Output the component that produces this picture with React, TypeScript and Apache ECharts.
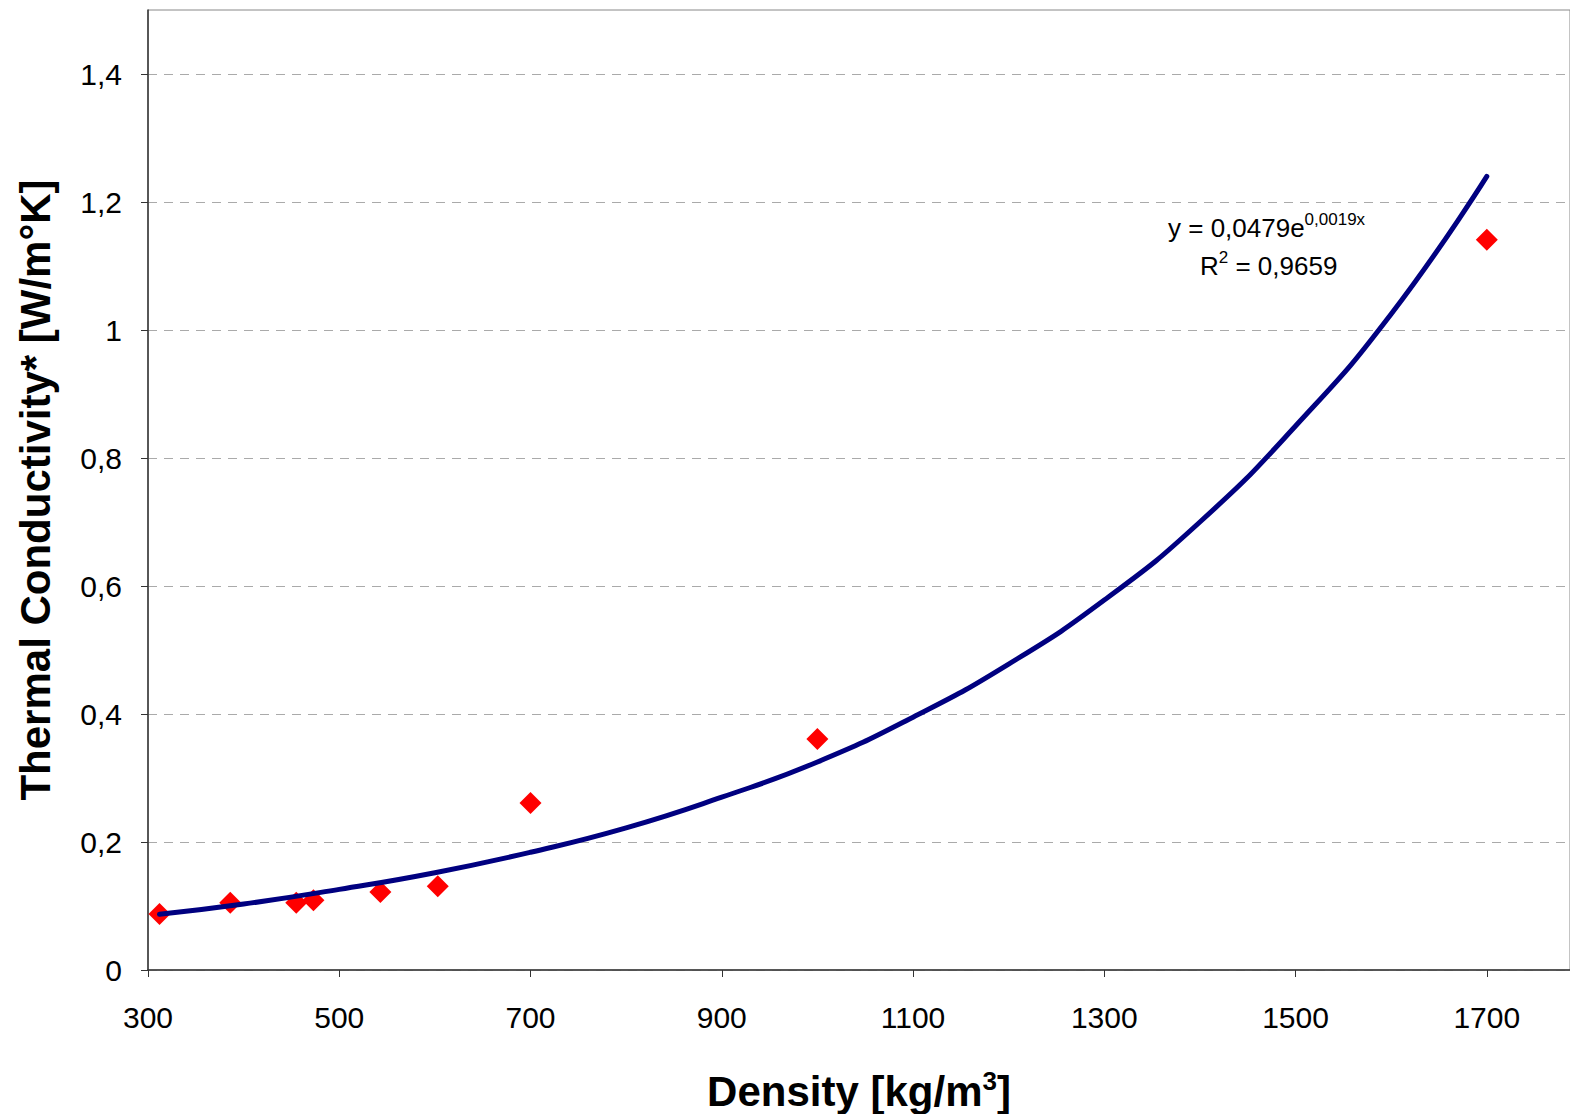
import React, { useEffect, useRef } from "react";
import * as echarts from "echarts";

const densities = [312, 386, 455, 473, 543, 603, 700, 1000, 1700];
const conductivities = [0.0875, 0.105, 0.105, 0.109, 0.122, 0.131, 0.261, 0.361, 1.141];

const trendX = [312, 400, 500, 600, 700, 800, 900, 1000, 1100, 1200, 1300, 1400, 1500, 1600, 1700];
const trendY = [0.087, 0.103, 0.126, 0.152, 0.184, 0.222, 0.27, 0.325, 0.395, 0.478, 0.578, 0.7, 0.85, 1.025, 1.24];

const xTicks = [300, 500, 700, 900, 1100, 1300, 1500, 1700];
const yTicks = [0, 0.2, 0.4, 0.6, 0.8, 1, 1.2, 1.4];

const FONT = "'Liberation Sans', Arial, sans-serif";

export default function App() {
  const ref = useRef<HTMLDivElement>(null);
  useEffect(() => {
    document.body.style.margin = "0";
    const chart = echarts.init(ref.current!, null, { renderer: "svg" });
    chart.setOption({
      animation: false,
      backgroundColor: "#ffffff",
      grid: {
        left: 148,
        top: 10,
        right: 0,
        bottom: 144,
        containLabel: false,
        outerBoundsMode: "none",
        show: true,
        borderColor: "#888888",
        borderWidth: 1,
      },
      xAxis: {
        type: "value",
        min: 300,
        max: 1787,
        name: "Density [kg/m{sup|3}]",
        nameLocation: "middle",
        nameGap: 98,
        nameTextStyle: {
          fontFamily: FONT,
          fontSize: 42,
          fontWeight: "bold",
          color: "#000",
          rich: {
            sup: {
              fontFamily: FONT,
              fontSize: 26,
              fontWeight: "bold",
              color: "#000",
              padding: [0, 0, 20, 0],
            },
          },
        },
        axisLine: { show: true, lineStyle: { color: "#333333", width: 1.5 } },
        axisTick: {
          show: true,
          length: 7,
          customValues: xTicks,
          lineStyle: { color: "#333333" },
        },
        axisLabel: {
          customValues: xTicks,
          fontFamily: FONT,
          fontSize: 30,
          color: "#000",
          margin: 32,
          formatter: (v: number) => String(v),
        },
        splitLine: { show: false },
      },
      yAxis: {
        type: "value",
        min: 0,
        max: 1.5,
        name: "Thermal Conductivity* [W/m°K]",
        nameLocation: "middle",
        nameGap: 92,
        nameTextStyle: {
          fontFamily: FONT,
          fontSize: 42,
          fontWeight: "bold",
          color: "#000",
        },
        axisLine: { show: true, lineStyle: { color: "#333333", width: 1.5 } },
        axisTick: {
          show: true,
          length: 7,
          customValues: yTicks,
          lineStyle: { color: "#333333" },
        },
        axisLabel: {
          customValues: yTicks,
          fontFamily: FONT,
          fontSize: 30,
          color: "#000",
          margin: 26,
          formatter: (v: number) => String(Math.round(v * 10) / 10).replace(".", ","),
        },
        splitLine: {
          show: true,
          customValues: yTicks,
          lineStyle: { color: "#aaaaaa", type: [9, 7], width: 1 },
        },
      },
      graphic: [
        {
          type: "text",
          left: 1168,
          top: 211,
          style: {
            text: "y = 0,0479e{sup|0,0019x}",
            fontFamily: FONT,
            fontSize: 26,
            fill: "#000",
            rich: {
              sup: { fontFamily: FONT, fontSize: 17, fill: "#000", padding: [0, 0, 16, 0] },
            },
          },
        },
        {
          type: "text",
          left: 1200,
          top: 249,
          style: {
            text: "R{sup|2} = 0,9659",
            fontFamily: FONT,
            fontSize: 26,
            fill: "#000",
            rich: {
              sup: { fontFamily: FONT, fontSize: 17, fill: "#000", padding: [0, 0, 16, 0] },
            },
          },
        },
      ],
      series: [
        {
          type: "line",
          data: trendX.map((x, i) => [x, trendY[i]]),
          smooth: true,
          symbol: "none",
          lineStyle: { color: "#000080", width: 5, cap: "round" },
          z: 3,
        },
        {
          type: "scatter",
          data: densities.map((x, i) => [x, conductivities[i]]),
          symbol: "diamond",
          symbolSize: 22,
          itemStyle: { color: "#ff0000", opacity: 1 },
          emphasis: { disabled: true },
          z: 2,
        },
      ],
    });
    return () => chart.dispose();
  }, []);
  return <div ref={ref} style={{ width: 1570, height: 1114 }} />;
}
